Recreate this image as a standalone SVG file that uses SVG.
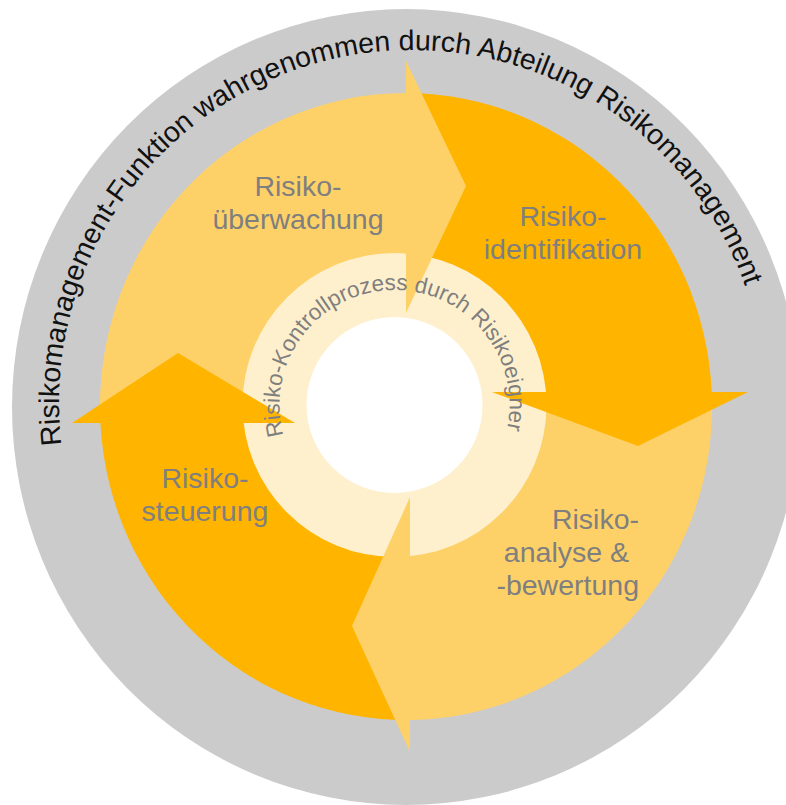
<svg xmlns="http://www.w3.org/2000/svg" width="786" height="805" viewBox="0 0 786 805">
  <style>
    .light { fill: #FED168; }
    .dark { fill: #FFB400; }
    .pale { fill: #FEF0CD; }
    .lbl { font-family: "Liberation Sans", Arial, sans-serif; font-size: 28.5px; fill: #7F7F7F; }
    .outer { font-family: "Liberation Sans", Arial, sans-serif; font-size: 28.5px; fill: #111111; }
    .inner { font-family: "Liberation Sans", Arial, sans-serif; font-size: 22.5px; fill: #7F7F7F; }
  </style>
  <defs>
    <path id="outerArc" d="M106.3,579.5 A353,353 0 1 1 717.7,579.5"/>
    <path id="innerArc" d="M294.9,462.5 A115,115 0 1 1 494.1,462.5"/>
  </defs>
  <rect width="786" height="805" fill="#FFFFFF"/>
  <g id="outer-ring">
    <ellipse cx="406" cy="407" rx="394" ry="398" fill="#CBCBCB"/>
  </g>
  <g id="node-ueberwachung">
    <path class="light" d="M406,93 A306,313.5 0 0 0 100.4,423 L406,423 Z"/>
    <text class="lbl" text-anchor="middle"><tspan x="298" y="196">Risiko-</tspan><tspan x="298" y="229">überwachung</tspan></text>
  </g>
  <g id="node-identifikation">
    <path class="dark" d="M406,93 A306,313.5 0 0 1 711.7,392 L406,392 Z"/>
    <text class="lbl" text-anchor="middle"><tspan x="563" y="226">Risiko-</tspan><tspan x="563" y="259">identifikation</tspan></text>
  </g>
  <g id="node-analyse">
    <path class="light" d="M711.7,392 A306,313.5 0 0 1 410,720 L410,392 Z"/>
    <text class="lbl" text-anchor="end"><tspan x="639" y="529">Risiko-</tspan><tspan x="629" y="562">analyse &amp;</tspan><tspan x="639" y="595">-bewertung</tspan></text>
  </g>
  <g id="node-steuerung">
    <path class="dark" d="M410,720 A306,313.5 0 0 1 100.4,423 L410,423 Z"/>
    <text class="lbl" text-anchor="middle"><tspan x="205" y="488">Risiko-</tspan><tspan x="205" y="521">steuerung</tspan></text>
  </g>
  <g id="inner-ring">
    <circle class="pale" cx="394.5" cy="405" r="152"/>
  </g>
  <g id="connectors">
    <polygon class="light" points="406,61 466,186 406,313"/>
    <polygon class="dark" points="748,392 638,446 492,392"/>
    <polygon class="light" points="410,752 352,626 410,497"/>
    <polygon class="dark" points="72,423 178,353 295,423"/>
  </g>
  <g id="center">
    <circle cx="394.5" cy="405" r="88" fill="#FFFFFF"/>
  </g>
  <g id="arc-labels">
    <text class="outer" text-anchor="middle"><textPath href="#outerArc" startOffset="658.6">Risikomanagement-Funktion wahrgenommen durch Abteilung Risikomanagement</textPath></text>
    <text class="inner" text-anchor="middle"><textPath href="#innerArc" startOffset="237.8">Risiko-Kontrollprozess durch Risikoeigner</textPath></text>
  </g>
</svg>
